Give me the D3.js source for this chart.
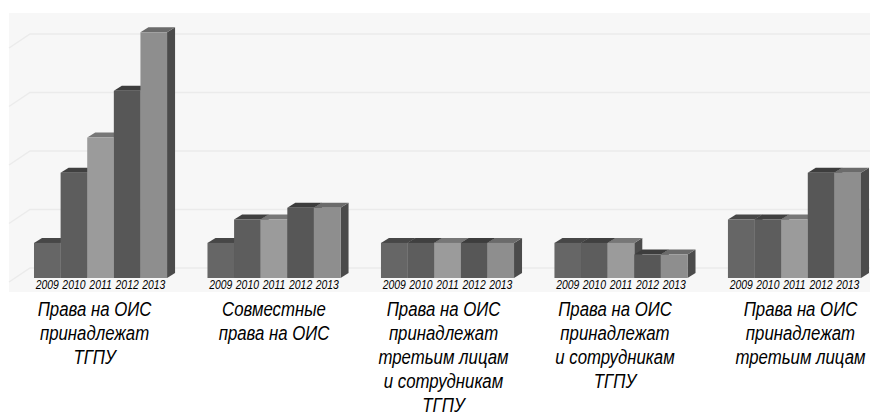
<!DOCTYPE html>
<html>
<head>
<meta charset="utf-8">
<script src="https://d3js.org/d3.v7.min.js"></script>
<style>
  body { margin: 0; background: #fff; }
  text { font-family: "Liberation Sans", Arial, sans-serif; font-style: italic; fill: #000; }
</style>
</head>
<body>
<svg id="chart"></svg>
<script>
// years = series, one value per category
const years = ["2009", "2010", "2011", "2012", "2013"];
const v2009 = [3, 3, 3, 3, 5];
const v2010 = [9, 5, 3, 3, 5];
const v2011 = [12, 5, 3, 3, 5];
const v2012 = [16, 6, 3, 2, 9];
const v2013 = [21, 6, 3, 2, 9];
const gridTicks = [0, 5, 10, 15, 20];

const categories = [
  ["Права на ОИС", "принадлежат", "ТГПУ"],
  ["Совместные", "права на ОИС"],
  ["Права на ОИС", "принадлежат", "третьим лицам", "и сотрудникам", "ТГПУ"],
  ["Права на ОИС", "принадлежат", "и сотрудникам", "ТГПУ"],
  ["Права на ОИС", "принадлежат", "третьим лицам"]
];

class Bar3DChart {

  constructor(_config, _data) {
    this.config = {
      parentElement: _config.parentElement,
      containerWidth: _config.containerWidth || 870,
      containerHeight: _config.containerHeight || 417,
      depthX: 8,
      depthY: 5,
      wallOffset: 10
    };
    this.data = _data;
    this.initVis();
  }

  initVis() {
    let vis = this;

    vis.svg = d3.select(vis.config.parentElement)
      .attr('width', vis.config.containerWidth)
      .attr('height', vis.config.containerHeight);

    // outer (category) and inner (year) band scales
    vis.xScale = d3.scaleBand()
      .domain(d3.range(categories.length))
      .range([13.75, 881.25])
      .paddingInner(0.233)
      .paddingOuter(0.1167);

    vis.xInner = d3.scaleBand()
      .domain(years)
      .range([0, vis.xScale.bandwidth()]);

    vis.yScale = d3.scaleLinear()
      .domain([0, 20])
      .range([278, 44]);

    // light panel behind the plot
    vis.svg.append('rect')
      .attr('x', 9).attr('y', 13)
      .attr('width', 861).attr('height', 279)
      .attr('fill', '#f7f7f7');

    vis.grid = vis.svg.append('g').attr('class', 'grid');
    vis.chart = vis.svg.append('g');
    vis.labels = vis.svg.append('g');

    vis.renderVis();
  }

  renderVis() {
    let vis = this;
    const dx = vis.config.depthX, dy = vis.config.depthY;

    // back wall gridlines with slanted left wall
    vis.grid.selectAll('path')
      .data(gridTicks)
      .join('path')
      .attr('d', d => {
        const y = vis.yScale(d) - vis.config.wallOffset;
        return `M9,${y + 14}L30,${y}L870,${y}`;
      })
      .attr('fill', 'none')
      .attr('stroke', '#ebebeb')
      .attr('stroke-width', 1.5);

    const groups = vis.chart.selectAll('g.cat')
      .data(vis.data)
      .join('g')
      .attr('class', 'cat')
      .attr('transform', (d, i) => `translate(${vis.xScale(i)},0)`);

    const w = vis.xInner.bandwidth();
    const base = vis.yScale(0);

    const bars = groups.selectAll('g.bar')
      .data(d => d)
      .join('g')
      .attr('class', 'bar');

    // side face
    bars.append('path')
      .attr('d', d => {
        const x = vis.xInner(d.year) + w, y = vis.yScale(d.value);
        return `M${x},${y}L${x + dx},${y - dy}L${x + dx},${base - dy}L${x},${base}Z`;
      })
      .attr('fill', '#4b4b4b');

    // top face
    bars.append('path')
      .attr('d', d => {
        const x = vis.xInner(d.year), y = vis.yScale(d.value);
        return `M${x},${y}L${x + dx},${y - dy}L${x + w + dx},${y - dy}L${x + w},${y}Z`;
      })
      .attr('fill', d => d.top);

    // front face
    bars.append('rect')
      .attr('x', d => vis.xInner(d.year))
      .attr('y', d => vis.yScale(d.value))
      .attr('width', w)
      .attr('height', d => base - vis.yScale(d.value))
      .attr('fill', d => d.front);

    // year labels under each bar
    groups.selectAll('text.year')
      .data(years)
      .join('text')
      .attr('class', 'year')
      .attr('transform', d => `translate(${vis.xInner(d) + w / 2},289) scale(0.8,1)`)
      .attr('text-anchor', 'middle')
      .attr('font-size', '13px')
      .text(d => d);

    // category captions
    const shift = [-6, 0, -4, -6, 6];
    vis.labels.selectAll('g')
      .data(categories)
      .join('g')
      .each(function(lines, i) {
        d3.select(this).selectAll('text')
          .data(lines)
          .join('text')
          .attr('transform', (l, j) => `translate(${vis.xScale(i) + vis.xScale.bandwidth() / 2 + shift[i]},${316 + j * 24}) scale(0.8,1)`)
          .attr('text-anchor', 'middle')
          .attr('font-size', '21px')
          .text(l => l);
      });
  }
}

const fronts = ["#666666", "#5d5d5d", "#9b9b9b", "#575757", "#8e8e8e"];
const tops = ["#474747", "#404040", "#777777", "#3d3d3d", "#6b6b6b"];
const series = [v2009, v2010, v2011, v2012, v2013];

const data = categories.map((c, i) => years.map((y, k) => ({
  year: y,
  value: series[k][i],
  front: fronts[k],
  top: tops[k]
})));

new Bar3DChart({ parentElement: '#chart' }, data);
</script>
</body>
</html>
